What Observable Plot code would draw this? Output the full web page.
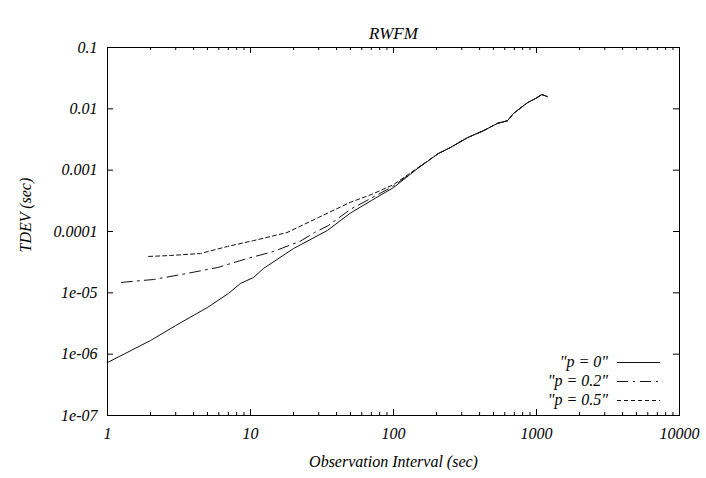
<!DOCTYPE html>
<html>
<head>
<meta charset="utf-8">
<script src="https://cdn.jsdelivr.net/npm/d3@7"></script>
<script src="https://cdn.jsdelivr.net/npm/@observablehq/plot@0.6"></script>
<style>
  html, body { margin: 0; padding: 0; background: #fff; }
  #wrap { position: relative; width: 706px; height: 478px; font-family: "Liberation Serif", "DejaVu Serif", serif; font-style: italic; }
  #wrap svg { display: block; }
  .lg-row { position: absolute; height: 20px; line-height: 20px; font-size: 16px; color: #000; white-space: nowrap; }
  .lg-text { text-align: right; }
</style>
</head>
<body>
<div id="wrap"></div>
<script>
// ---- data ----
const seriesNames = ['"p = 0"', '"p = 0.2"', '"p = 0.5"'];

const xP0 = [1, 2, 3, 5, 7, 8.5, 10.5, 12.3, 20, 34.5, 50, 70, 100, 147, 206, 250, 330, 426, 534, 627, 690, 865, 984, 1090, 1194];
const yP0 = [7.3e-7, 1.67e-6, 2.93e-6, 5.77e-6, 9.75e-6, 1.42e-5, 1.78e-5, 2.49e-5, 5.28e-5, 1.04e-4, 2.0e-4, 3.2e-4, 5.2e-4, 1.06e-3, 1.87e-3, 2.34e-3, 3.4e-3, 4.4e-3, 5.8e-3, 6.4e-3, 8.4e-3, 1.26e-2, 1.47e-2, 1.71e-2, 1.58e-2];

const xP02 = [1.25, 2.1, 3.6, 5.9, 9.5, 14.5, 22.4, 28, 35, 50, 70, 100, 147, 206, 250, 330, 426, 534, 627, 690, 865, 984, 1090, 1194];
const yP02 = [1.48e-5, 1.65e-5, 2.07e-5, 2.59e-5, 3.63e-5, 4.72e-5, 7.0e-5, 9.6e-5, 1.25e-4, 2.3e-4, 3.5e-4, 5.5e-4, 1.07e-3, 1.87e-3, 2.34e-3, 3.4e-3, 4.4e-3, 5.8e-3, 6.4e-3, 8.4e-3, 1.26e-2, 1.47e-2, 1.71e-2, 1.58e-2];

const xP05 = [1.94, 2.76, 4.47, 6.9, 10.5, 18, 30, 50, 70, 100, 147, 206, 250, 330, 426, 534, 627, 690, 865, 984, 1090, 1194];
const yP05 = [3.92e-5, 4.06e-5, 4.38e-5, 5.7e-5, 7.1e-5, 9.6e-5, 1.7e-4, 3.0e-4, 4.0e-4, 5.8e-4, 1.08e-3, 1.87e-3, 2.34e-3, 3.4e-3, 4.4e-3, 5.8e-3, 6.4e-3, 8.4e-3, 1.26e-2, 1.47e-2, 1.71e-2, 1.58e-2];

const xTickValues = [1, 10, 100, 1000, 10000];
const xTickLabels = ["1", "10", "100", "1000", "10000"];
const yTickValues = [1e-7, 1e-6, 1e-5, 1e-4, 1e-3, 1e-2, 1e-1];
const yTickLabels = ["1e-07", "1e-06", "1e-05", "0.0001", "0.001", "0.01", "0.1"];

const titleText = "RWFM";
const xLabel = "Observation Interval (sec)";
const yLabel = "TDEV (sec)";

// ---- styling ----
const dashes = [null, "11,5,2,5", "4,3"];
const W = 706, H = 478;
const mL = 107, mR = 27, mT = 47, mB = 63;
const frameW = W - mL - mR, frameH = H - mT - mB;

// minor tick positions (2..9 within each decade)
const xMinor = [];
for (let d = 1; d < 10000; d *= 10) for (let k = 2; k <= 9; k++) xMinor.push(d * k);

const table = [];
[[xP0, yP0], [xP02, yP02], [xP05, yP05]].forEach(([xs, ys], s) => {
  xs.forEach((x, i) => table.push({series: seriesNames[s], x, y: ys[i]}));
});

const lineMarks = seriesNames.map((name, s) =>
  Plot.line(table.filter(d => d.series === name), {
    x: "x", y: "y", stroke: "#111", strokeWidth: 1,
    strokeDasharray: dashes[s] ?? undefined
  })
);

const plot = Plot.plot({
  width: W, height: H,
  marginLeft: mL, marginRight: mR, marginTop: mT, marginBottom: mB,
  style: {fontFamily: "'Liberation Serif', 'DejaVu Serif', serif", fontStyle: "italic", fontSize: "16px", background: "#fff", color: "#000"},
  x: {type: "log", domain: [1, 10000]},
  y: {type: "log", domain: [1e-7, 0.1]},
  marks: [
    // ticks pointing inward, on all four sides
    Plot.tickX(xMinor, {x: d => d, insetTop: frameH - 3, stroke: "#000"}),
    Plot.tickX(xMinor, {x: d => d, insetBottom: frameH - 3, stroke: "#000"}),
    Plot.tickX(xTickValues, {x: d => d, insetTop: frameH - 6, stroke: "#000"}),
    Plot.tickX(xTickValues, {x: d => d, insetBottom: frameH - 6, stroke: "#000"}),
    Plot.tickY(yTickValues, {y: d => d, insetRight: frameW - 6, stroke: "#000"}),
    Plot.tickY(yTickValues, {y: d => d, insetLeft: frameW - 6, stroke: "#000"}),
    Plot.axisX({ticks: xTickValues, tickSize: 0, tickPadding: 12, label: null,
      tickFormat: d => xTickLabels[xTickValues.indexOf(d)], fontSize: 16}),
    Plot.axisY({ticks: yTickValues, tickSize: 0, tickPadding: 10, label: null,
      tickFormat: d => yTickLabels[yTickValues.indexOf(d)], fontSize: 16}),
    ...lineMarks,
    Plot.frame({stroke: "#000", strokeWidth: 1}),
    Plot.text([titleText], {frameAnchor: "top", dy: -21, fontSize: 17, fill: "#000"}),
    Plot.text([xLabel], {frameAnchor: "bottom", dy: 51, fontSize: 16, fill: "#000"}),
    Plot.text([yLabel], {frameAnchor: "left", rotate: -90, dx: -82, dy: 21, fontSize: 16, fill: "#000"})
  ]
});

const wrap = document.getElementById("wrap");
wrap.appendChild(plot);

// legend (inside the frame, bottom-right)
const rowCenters = [362, 381, 400];
seriesNames.forEach((name, s) => {
  const t = document.createElement("div");
  t.className = "lg-row lg-text";
  t.style.right = (W - 608) + "px";
  t.style.top = (rowCenters[s] - 10) + "px";
  t.textContent = name;
  wrap.appendChild(t);
  const sv = d3.create("svg").attr("width", 44).attr("height", 20)
    .style("position", "absolute").style("left", "617px").style("top", (rowCenters[s] - 10) + "px");
  sv.append("line").attr("x1", 0).attr("x2", 43).attr("y1", 10.5).attr("y2", 10.5)
    .attr("stroke", "#111").attr("stroke-width", 1)
    .attr("stroke-dasharray", dashes[s]);
  wrap.appendChild(sv.node());
});
</script>
</body>
</html>
